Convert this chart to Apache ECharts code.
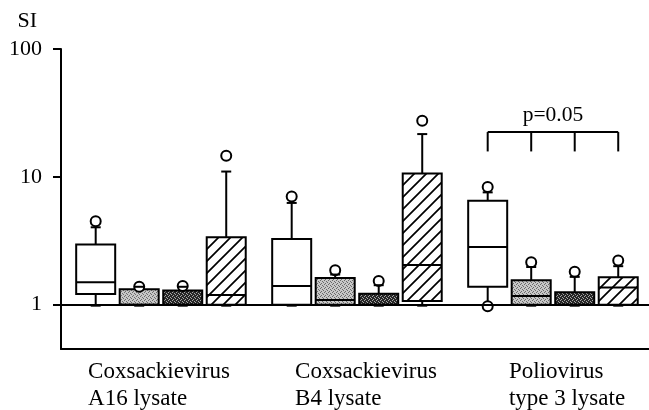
<!DOCTYPE html>
<html><head><meta charset="utf-8">
<script src="https://cdn.jsdelivr.net/npm/echarts@6/dist/echarts.min.js"></script>
<style>html,body{margin:0;padding:0;background:#fff}#c{width:649px;height:410px}</style>
</head><body><div id="c"></div>
<script>
// ---- data ----
const categories = ['Coxsackievirus\nA16 lysate', 'Coxsackievirus\nB4 lysate', 'Poliovirus\ntype 3 lysate'];
const yTicks = [1, 10, 100];
// each row: [whiskerLow, Q1, median, Q3, whiskerHigh]
const boxWhite   = [[1, 1.21, 1.50, 2.95, 4.03], [1, 1.00, 1.40, 3.27, 6.25], [1, 1.38, 2.83, 6.51, 7.56]];
const boxLight   = [[1, 1.00, 1.00, 1.32, 1.38], [1, 1.00, 1.09, 1.62, 1.72], [1, 1.00, 1.17, 1.55, 1.97]];
const boxDark    = [[1, 1.00, 1.00, 1.29, 1.38], [1, 1.00, 1.00, 1.22, 1.42], [1, 1.00, 1.00, 1.25, 1.65]];
const boxHatched = [[1, 1.00, 1.19, 3.37, 11.0], [1, 1.07, 2.04, 10.6, 21.6], [1, 1.00, 1.36, 1.64, 2.00]];
const outWhite   = [[4.49], [7.03], [8.33, 0.97]];
const outLight   = [[1.38], [1.86], [2.15]];
const outDark    = [[1.40], [1.53], [1.81]];
const outHatched = [[14.6], [27.5], [2.22]];
const bracketCategory = 2, bracketTop = 22.4, bracketTickEnd = 15.8, bracketLabelValue = 30.5;
const bracketLabel = 'p=0.05';
const labelShift = [0, 22, 32];

const FONT = '"Liberation Serif", "Times New Roman", serif';

function pattern(kind) {
  const c = document.createElement('canvas');
  if (kind === 'hatch') {
    const s = 12; c.width = s; c.height = s;
    const g = c.getContext('2d');
    g.fillStyle = '#fff'; g.fillRect(0, 0, s, s);
    g.strokeStyle = '#000'; g.lineWidth = 1.7;
    g.beginPath();
    g.moveTo(-2, s + 2); g.lineTo(s + 2, -2);
    g.moveTo(-2, 2); g.lineTo(2, -2);
    g.moveTo(s - 2, s + 2); g.lineTo(s + 2, s - 2);
    g.stroke();
    return {image: c, repeat: 'repeat'};
  }
  c.width = 4; c.height = 4;
  const g = c.getContext('2d');
  const light = kind === 'light';
  g.fillStyle = light ? '#c8c8c8' : '#262626';
  g.fillRect(0, 0, 4, 4);
  g.fillStyle = light ? '#6a6a6a' : '#a8a8a8';
  [[0, 0], [2, 1], [1, 3], [3, 2]].forEach(p => g.fillRect(p[0], p[1], 1, 1));
  return {image: c, repeat: 'repeat'};
}
const fills = ['#fff', pattern('light'), pattern('dark'), pattern('hatch')];
const boxes = [boxWhite, boxLight, boxDark, boxHatched];
const outs = [outWhite, outLight, outDark, outHatched];

function makeRender(k) {
  return function (params, api) {
    const i = params.dataIndex;
    const cat = api.value(0);
    const band = api.size([1, 1])[0];
    const cx = api.coord([cat, 1])[0] + ((k - 1.5) * 0.222 + 0.01) * band;
    const w = 0.199 * band;
    const Y = v => api.coord([cat, v])[1];
    const low = api.value(1), q1 = api.value(2), med = api.value(3), q3 = api.value(4), high = api.value(5);
    const ln = (x1, y1, x2, y2) => ({type: 'line', shape: {x1, y1, x2, y2}, style: {stroke: '#000', lineWidth: 2}});
    const ch = [];
    if (low < q1) ch.push(ln(cx, Y(q1), cx, Y(low)));
    ch.push(ln(cx - 5, Y(low) + 1, cx + 5, Y(low) + 1));
    if (high > q3) ch.push(ln(cx, Y(q3), cx, Y(high)));
    ch.push({type: 'rect', shape: {x: cx - w / 2, y: Y(q3), width: w, height: Y(q1) - Y(q3)},
      style: {fill: fills[k], stroke: '#000', lineWidth: 2}});
    ch.push(ln(cx - w / 2, Y(med), cx + w / 2, Y(med)));
    outs[k][i].forEach(v => ch.push({type: 'circle', shape: {cx, cy: Y(v), r: 5},
      style: {fill: '#fff', stroke: '#000', lineWidth: 2}}));
    ch.push(ln(cx - 5, Y(high), cx + 5, Y(high)));
    return {type: 'group', children: ch};
  };
}

const series = boxes.map((b, k) => ({
  type: 'custom',
  name: 'box' + k,
  renderItem: makeRender(k),
  encode: {x: 0, y: [1, 2, 3, 4, 5]},
  data: b.map((r, i) => [i].concat(r)),
  silent: true,
  z: 3
}));
series[0].markLine = {
  silent: true, symbol: ['none', 'none'], label: {show: false},
  lineStyle: {color: '#000', width: 2, type: 'solid'},
  data: [{yAxis: 1}]
};
series.push({
  type: 'custom', name: 'bracket', silent: true,
  encode: {x: 0, y: [1, 2]},
  data: [[bracketCategory, bracketTop, bracketTickEnd, bracketLabelValue]],
  renderItem: function (params, api) {
    const cat = api.value(0);
    const band = api.size([1, 1])[0];
    const c0 = api.coord([cat, 1])[0];
    const xs = [0, 1, 2, 3].map(k => c0 + ((k - 1.5) * 0.222 + 0.01) * band);
    const yt = api.coord([cat, api.value(1)])[1];
    const yb = api.coord([cat, api.value(2)])[1];
    const yl = api.coord([cat, api.value(3)])[1];
    const ch = [{type: 'line', shape: {x1: xs[0], y1: yt, x2: xs[3], y2: yt}, style: {stroke: '#000', lineWidth: 2}}];
    xs.forEach(x => ch.push({type: 'line', shape: {x1: x, y1: yt, x2: x, y2: yb}, style: {stroke: '#000', lineWidth: 2}}));
    ch.push({type: 'text', x: (xs[0] + xs[3]) / 2, y: yl,
      style: {text: bracketLabel, fill: '#000', font: '21.5px ' + FONT, align: 'center', verticalAlign: 'middle'}});
    return {type: 'group', children: ch};
  }
});

const chart = echarts.init(document.getElementById('c'), null, {renderer: 'canvas'});
chart.setOption({
  animation: false,
  backgroundColor: '#fff',
  grid: {left: 61, right: 0, top: 49, bottom: 59, containLabel: false},
  xAxis: {
    type: 'category',
    data: categories.map((c, i) => ({value: c, textStyle: {padding: [0, 0, 0, labelShift[i]]}})),
    axisLine: {lineStyle: {color: '#000', width: 2}},
    axisTick: {show: false},
    axisLabel: {
      margin: 9, interval: 0, color: '#000',
      formatter: v => v.split('\n').map(s => '{l|' + s + '}').join('\n'),
      rich: {l: {align: 'left', fontSize: 23, fontFamily: FONT, color: '#000', lineHeight: 27}}
    },
    splitLine: {show: false}
  },
  yAxis: {
    type: 'log', logBase: 10, min: 0.45, max: 100,
    name: 'SI', nameLocation: 'end', nameGap: 17,
    nameTextStyle: {color: '#000', fontSize: 22, fontFamily: FONT, align: 'right', padding: [0, 24, 0, 0]},
    axisLine: {show: true, lineStyle: {color: '#000', width: 2}},
    axisTick: {show: true, length: 8, lineStyle: {color: '#000', width: 2}, customValues: yTicks},
    axisLabel: {customValues: yTicks, margin: 19, color: '#000', fontSize: 22, fontFamily: FONT,
      formatter: v => String(Math.round(v))},
    minorTick: {show: false},
    splitLine: {show: false}
  },
  series: series
});
</script></body></html>
